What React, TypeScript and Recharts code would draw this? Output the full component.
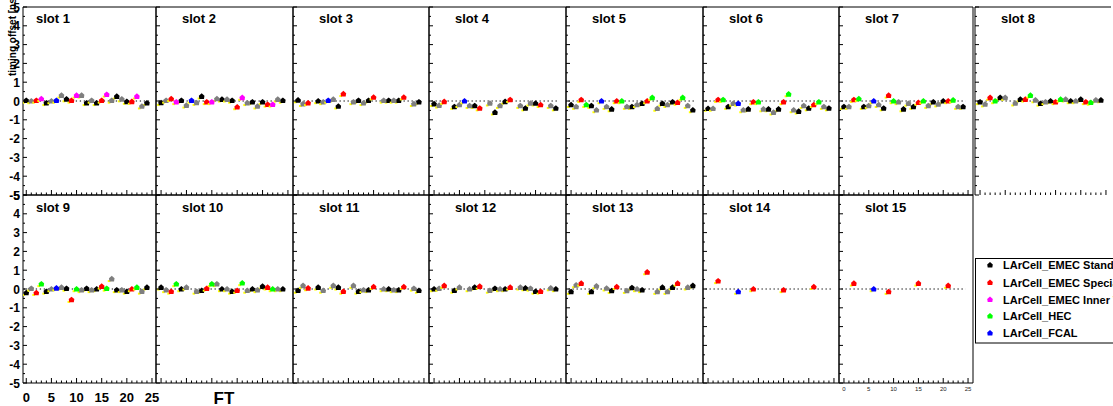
import { ScatterChart, Scatter, XAxis, YAxis, ReferenceLine } from 'recharts'

const FONT = '"Liberation Sans", Arial, Helvetica, sans-serif'

// timing offset [ns] per FT (index = FT 0..24), null = no channel
const slot1 = [0.03, 0, 0.03, 0.12, -0.1, 0, 0.03, 0.3, 0.1, 0.03, 0.3, 0.3, -0.1, 0.03, -0.1, 0.03, 0.35, 0.03, 0.25, 0.1, -0.03, -0.03, 0.25, -0.28, -0.1]
const slot2 = [-0.09, 0.03, 0.12, -0.05, 0.03, -0.23, 0.03, -0.09, 0.25, -0.05, -0.05, 0.12, 0.09, 0.09, 0.03, -0.32, 0.18, -0.1, -0.05, -0.28, -0.05, -0.18, -0.18, 0.09, 0.03]
const slot3 = [0.05, -0.15, -0.1, null, 0, -0.05, 0.03, 0.09, -0.28, 0.38, null, -0.05, 0.03, -0.1, 0.03, 0.2, null, 0.03, 0.03, 0.03, 0.03, 0.2, null, -0.15, -0.05]
const slot4 = [-0.15, -0.23, -0.03, null, -0.3, -0.2, 0, -0.25, -0.25, -0.38, null, -0.12, -0.6, -0.25, -0.03, 0.07, null, -0.25, -0.38, -0.12, -0.12, -0.2, null, -0.25, -0.38]
const slot5 = [-0.2, -0.3, 0.07, -0.2, -0.25, -0.48, 0, -0.3, -0.43, 0, 0, -0.3, -0.3, -0.2, -0.13, 0, 0.18, -0.4, -0.13, -0.2, -0.05, -0.08, 0.18, -0.25, -0.48]
const slot6 = [-0.4, -0.4, 0.07, 0.07, -0.3, -0.13, -0.13, -0.48, -0.43, -0.05, -0.05, -0.43, -0.43, -0.6, -0.43, -0.05, 0.37, -0.48, -0.55, -0.25, -0.38, -0.2, -0.05, -0.3, -0.38]
const slot7 = [-0.3, -0.3, 0.07, 0.12, -0.3, -0.25, 0, -0.2, -0.38, 0.3, 0, -0.05, -0.43, -0.13, -0.3, -0.08, 0, -0.25, -0.05, -0.17, 0, 0, 0.05, -0.3, -0.3]
const slot8 = [-0.05, -0.17, 0.18, 0, 0.18, 0.18, null, -0.12, 0.09, 0.09, 0.3, 0.05, -0.13, -0.05, 0, -0.05, 0.09, 0.09, 0, 0, 0.09, -0.05, -0.08, 0.05, 0.05]
const slot9 = [-0.2, 0.03, -0.2, 0.27, -0.13, 0, 0.05, 0.09, 0.03, -0.57, 0, -0.05, 0.03, -0.05, 0, 0.14, 0.03, 0.54, -0.05, -0.05, -0.13, 0, 0.09, -0.13, 0.09]
const slot10 = [0.09, -0.05, -0.13, 0.27, 0, 0.09, null, -0.13, -0.08, 0.03, 0.27, 0.27, 0, 0, -0.13, -0.08, 0.32, -0.08, 0, -0.05, 0.14, 0.09, 0, 0, 0]
const slot11 = [-0.08, 0.18, 0.05, null, 0.09, -0.08, null, 0.18, 0.09, -0.13, null, 0.18, -0.13, -0.05, -0.05, 0.12, null, 0, 0, -0.05, -0.05, 0.12, null, 0.03, -0.08]
const slot12 = [0, 0.03, 0.18, null, -0.08, 0.09, null, 0, 0.09, 0.14, null, -0.08, 0.03, 0, 0, 0.09, null, 0.09, 0.05, 0.03, -0.13, -0.13, null, 0.05, 0]
const slot13 = [-0.14, 0.21, 0.3, null, -0.14, 0.16, null, 0.04, -0.09, 0.12, null, -0.09, 0.07, 0, -0.05, 0.9, null, -0.14, 0.09, -0.14, 0.09, 0.3, null, 0.09, 0.18]
const slot14 = [null, null, 0.43, null, null, null, -0.14, null, null, 0, null, null, null, null, null, -0.05, null, null, null, null, null, 0.12, null, null, null]
const slot15 = [null, null, 0.3, null, null, null, 0, null, null, -0.14, null, null, null, null, null, 0.3, null, null, null, null, null, 0.18, null, null, null]

// cell type per FT: k standard, g standard (other side), r special, m inner wheel, h HEC, b FCAL
const kindsEmec = 'kgrmkgbgkrmgkgkrmgkgkrmgk'
const kindsNoIw = 'kgr.kgbgkr.gkgkr.gkgkr.gk'
const kindsHec = 'kgrhkgbgkrhgkgkrhgkgkrhgk'
const kindsHecNoFcal = 'kgrhkg.gkrhgkgkrhgkgkrhgk'
const kindsStd = 'kgr.kg.gkr.gkgkr.gkgkr.gk'
const kindsSpecial = '..r...b..r.....r.....r...'

const slotValues = [slot1, slot2, slot3, slot4, slot5, slot6, slot7, slot8, slot9, slot10, slot11, slot12, slot13, slot14, slot15]
const slotKinds = [kindsEmec, kindsEmec, kindsNoIw, kindsNoIw, kindsHec, kindsHec, kindsHec, kindsHecNoFcal, kindsHec, kindsHecNoFcal, kindsStd, kindsStd, kindsStd, kindsSpecial, kindsSpecial]

const seriesKeys = ['k', 'g', 'r', 'm', 'h', 'b']
const seriesNames: Record<string, string> = {
  k: 'LArCell_EMEC Standard',
  g: 'LArCell_EMEC Standard',
  r: 'LArCell_EMEC Special',
  m: 'LArCell_EMEC Inner Wheel',
  h: 'LArCell_HEC',
  b: 'LArCell_FCAL',
}
const legendKeys = ['k', 'r', 'm', 'h', 'b']

const xTicks = Array.from({ length: 26 }, (_, i) => i)
const yTicks = Array.from({ length: 21 }, (_, i) => -5 + i * 0.5)

const COLORS: Record<string, string> = {
  k: '#000000', g: '#7f7f7f', r: '#ff0000', m: '#ff00ff', h: '#00ff00', b: '#0000ff',
}

// pad geometry (frame edges, px)
const COL_LEFT = [23, 156, 293, 429, 566, 703, 839, 975]
const COL_RIGHT = [156, 293, 429, 566, 703, 839, 973, 1111]
const ROW_TOP = [7, 195]
const ROW_BOTTOM = [195, 383]
const PAD_L = 26, PAD_R = 4, PAD_T = 4, PAD_B = 24

function markerPath(cx: number, cy: number) {
  return `${cx},${cy - 3} ${cx + 2.8},${cy - 0.6} ${cx + 2.3},${cy + 2.6} ${cx - 2.3},${cy + 2.6} ${cx - 2.8},${cy - 0.6}`
}

function Marker({ cx, cy, color }: { cx: number; cy: number; color: string }) {
  return (
    <g>
      <rect x={cx - 4} y={cy + 1.2} width={2.6} height={2} fill="#ffff00" />
      <polygon points={markerPath(cx, cy)} fill={color} />
    </g>
  )
}

function XTick({ x, y, payload, mode }: any) {
  const v = payload.value
  const major = v % 5 === 0
  return (
    <g>
      <line x1={x} x2={x} y1={y} y2={y - (major ? 5 : 2.5)} stroke="#000" />
      {mode === 'big' && major && (
        <text x={x} y={y + 19} textAnchor="middle" fontSize={13} fontWeight="bold" fontFamily={FONT} fill="#000">{v}</text>
      )}
      {mode === 'small' && major && (
        <text x={x} y={y + 8} textAnchor="middle" fontSize={6} fontFamily={FONT} fill="#222">{v}</text>
      )}
    </g>
  )
}

function YTick({ x, y, payload, labels }: any) {
  const v = payload.value
  const major = Number.isInteger(v)
  return (
    <g>
      <line x1={x} x2={x + (major ? 4 : 2)} y1={y} y2={y} stroke="#000" />
      {labels && major && (
        <text x={x - 3} y={y + 4.5} textAnchor="end" fontSize={12} fontWeight="bold" fontFamily={FONT} fill="#000">{v}</text>
      )}
    </g>
  )
}

function Panel({ slot }: { slot: number }) {
  const idx = slot - 1
  const col = idx % 8
  const row = Math.floor(idx / 8)
  const fl = COL_LEFT[col], fr = COL_RIGHT[col], ft = ROW_TOP[row], fb = ROW_BOTTOM[row]
  const xDomain: [number, number] = col === 0 ? [-0.65, 25.8] : [-1, 26]
  const mode = slot === 9 ? 'big' : slot === 15 ? 'small' : 'none'
  const open = slot === 8
  const values = slotValues[idx]
  const kinds = slotKinds[idx]

  return (
    <div style={{ position: 'absolute', left: fl - PAD_L, top: ft - PAD_T }}>
      <ScatterChart
        width={fr - fl + PAD_L + PAD_R}
        height={fb - ft + PAD_T + PAD_B}
        margin={{ top: PAD_T, right: PAD_R, bottom: 0, left: 0 }}
      >
        <XAxis
          type="number" dataKey="ft" domain={xDomain} allowDataOverflow ticks={xTicks} interval={0}
          height={PAD_B} tickSize={0} tickMargin={0} tickLine={false}
          axisLine={open ? false : { stroke: '#000' }}
          tick={(p: any) => <XTick {...p} mode={mode} />}
        />
        <YAxis
          type="number" dataKey="off" domain={[-5, 5]} allowDataOverflow ticks={yTicks} interval={0}
          width={PAD_L} tickSize={0} tickMargin={0} tickLine={false}
          axisLine={{ stroke: '#000' }}
          tick={(p: any) => <YTick {...p} labels={col === 0} />}
        />
        <ReferenceLine y={5} stroke="#000" />
        {!open && <ReferenceLine x={xDomain[1]} stroke="#000" />}
        <ReferenceLine segment={[{ x: -0.5, y: 0 }, { x: 24.5, y: 0 }]} stroke="#000" strokeDasharray="1.3 2.7" />
        {seriesKeys.map(k => (
          <Scatter
            key={k}
            name={seriesNames[k]}
            data={values.flatMap((v, i) => (kinds[i] === k && v !== null ? [{ ft: i, off: v }] : []))}
            isAnimationActive={false}
            shape={(p: any) => <Marker cx={p.cx} cy={p.cy} color={COLORS[k]} />}
          />
        ))}
      </ScatterChart>
    </div>
  )
}

export default function App() {
  const slots = slotValues.map((_, i) => i + 1)
  const legendRows = [265, 282.5, 299.5, 316, 333]
  return (
    <div style={{ position: 'absolute', left: 0, top: 0, width: 1113, height: 406, overflow: 'hidden', background: '#fff', fontFamily: FONT }}>
      {slots.map(s => <Panel key={s} slot={s} />)}
      <svg width={1113} height={406} style={{ position: 'absolute', left: 0, top: 0, pointerEvents: 'none' }}>
        {slots.map(s => {
          const col = (s - 1) % 8
          const row = Math.floor((s - 1) / 8)
          return (
            <text key={s} x={col === 0 ? 36 : COL_LEFT[col] + 26} y={row === 0 ? 22.5 : 211.5}
              fontSize={13} fontWeight="bold" fontFamily={FONT} fill="#000">
              slot {s}
            </text>
          )
        })}
        <text transform="translate(16,76) rotate(-90)" textAnchor="start" fontSize={10} fontWeight="bold" fontFamily={FONT} fill="#000">
          timing offset [ns]
        </text>
        <text x={224} y={404} textAnchor="middle" fontSize={17} fontWeight="bold" fontFamily={FONT} fill="#000">FT</text>
        <rect x={975.5} y={258.5} width={160} height={84.5} fill="#fff" stroke="#000" />
        {legendKeys.map((k, i) => (
          <g key={k}>
            <polygon points={markerPath(990, legendRows[i])} fill={COLORS[k]} />
            <text x={1003} y={legendRows[i] + 4} fontSize={11} fontWeight="bold" fontFamily={FONT} fill="#000">
              {seriesNames[k]}
            </text>
          </g>
        ))}
      </svg>
    </div>
  )
}
